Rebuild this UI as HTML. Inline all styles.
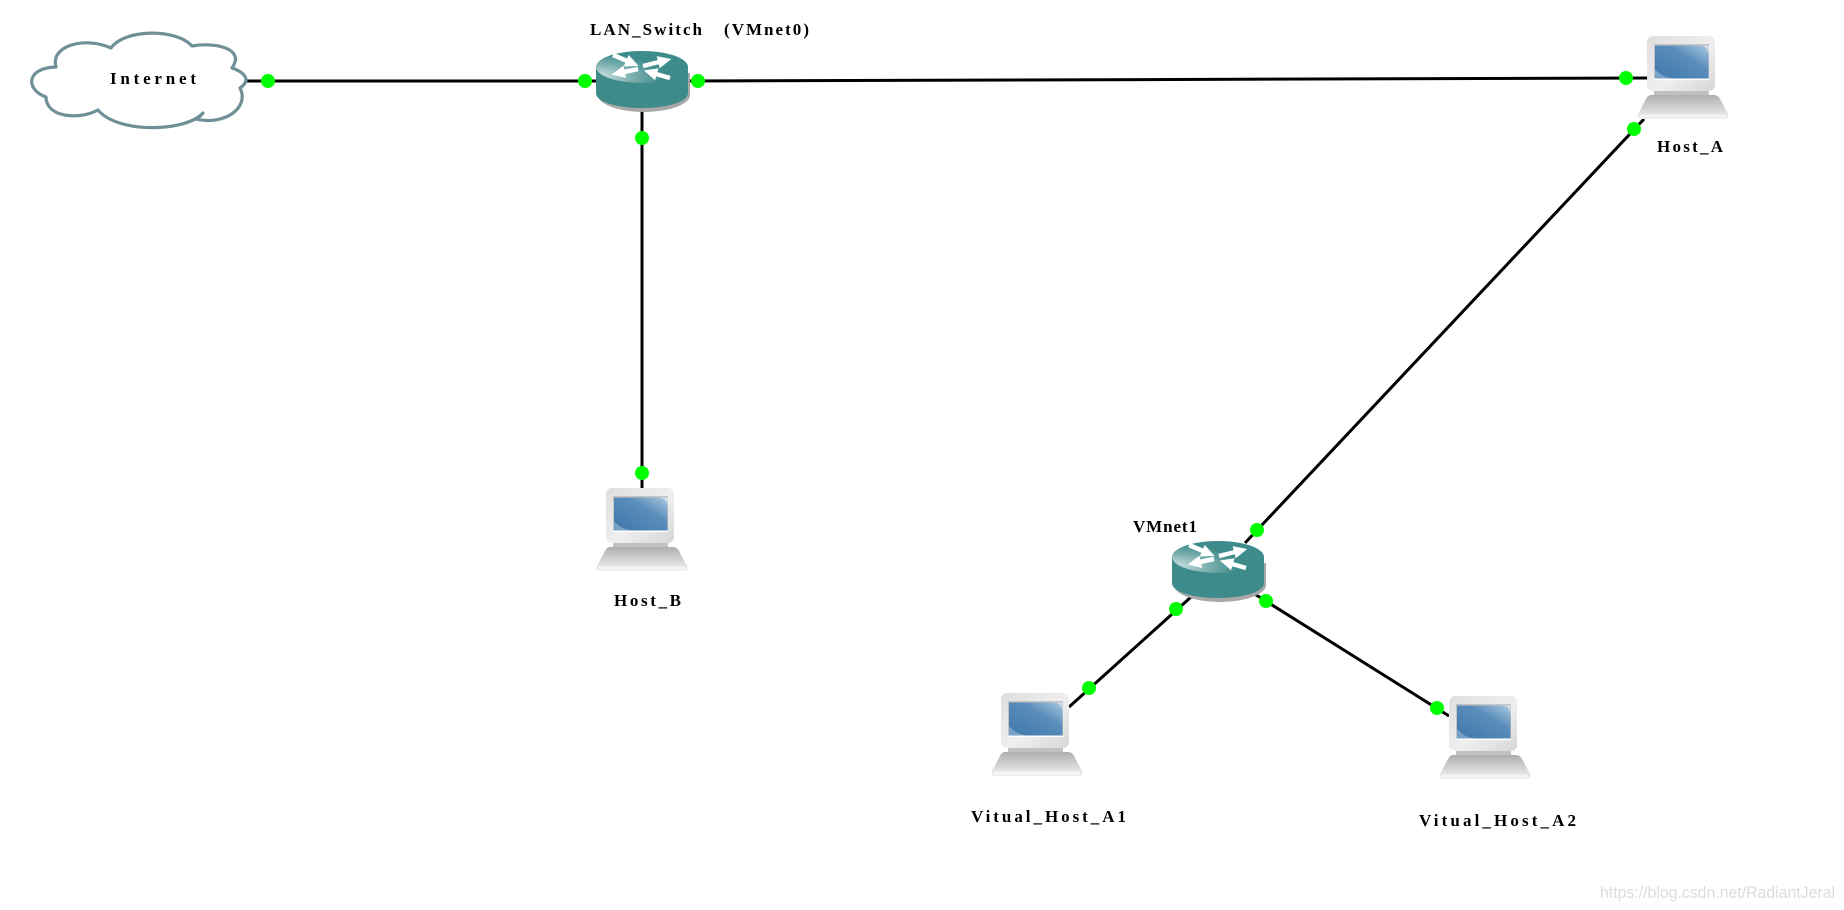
<!DOCTYPE html>
<html>
<head>
<meta charset="utf-8">
<style>
html,body{margin:0;padding:0;background:#fff;}
svg{display:block;}
text{font-family:"Liberation Serif","Noto Serif CJK SC",serif;font-weight:bold;font-size:17px;fill:#000;}
</style>
</head>
<body>
<svg width="1844" height="910" viewBox="0 0 1844 910" xmlns="http://www.w3.org/2000/svg">
<defs>
<radialGradient id="rt" cx="0" cy="0.8" r="0.72">
<stop offset="0" stop-color="#d2e5e5"/><stop offset="0.5" stop-color="#84b4b4"/><stop offset="1" stop-color="#3e8b8b"/>
</radialGradient>
<linearGradient id="mon" x1="0" y1="0" x2="1" y2="1">
<stop offset="0" stop-color="#dedede"/><stop offset="0.55" stop-color="#efefef"/><stop offset="1" stop-color="#d6d6d6"/>
</linearGradient>
<linearGradient id="scr" x1="0" y1="1" x2="1" y2="0">
<stop offset="0" stop-color="#3f78ac"/><stop offset="0.62" stop-color="#5a8dba"/><stop offset="1" stop-color="#aac8e0"/>
</linearGradient>
<linearGradient id="base" x1="0" y1="0" x2="0" y2="1">
<stop offset="0" stop-color="#aeaeae"/><stop offset="0.7" stop-color="#dedede"/><stop offset="1" stop-color="#f0f0f0"/>
</linearGradient>
<marker id="ah" markerWidth="3" markerHeight="2.8" refX="0.2" refY="1.4" orient="auto" markerUnits="strokeWidth">
<path d="M0 0 L3 1.4 L0 2.8 Z" fill="#fff"/>
</marker>
<symbol id="router" width="97" height="66" viewBox="0 0 97 66" overflow="visible">
<path d="M2 22 V44 C2 54 25 61 48 61 C71 61 94 54 94 44 V22 Z" fill="#a8a8a8"/>
<path d="M0 16 V42 C0 51 21 57 46 57 C71 57 92 51 92 42 V16 Z" fill="#3e8b8b"/>
<ellipse cx="46" cy="16" rx="46" ry="16" fill="url(#rt)"/>
<g stroke="#fff" stroke-width="4.500" fill="none" marker-end="url(#ah)">
<line x1="17" y1="4" x2="31" y2="10"/>
<line x1="47" y1="15" x2="63" y2="11"/>
<line x1="42" y1="18" x2="28" y2="21"/>
<line x1="74" y1="27" x2="60" y2="23"/>
</g>
</symbol>
<symbol id="host" width="92" height="84" viewBox="0 0 92 84" overflow="visible">
<rect x="17" y="53" width="55" height="8" fill="#c0c0c0"/>
<path d="M14 59 H77 Q81 59 83 63 L91 78 Q93 83 88 83 H4 Q-1 83 1 78 L9 63 Q11 59 14 59 Z" fill="url(#base)"/>
<path d="M4 80 H88" stroke="#f4f4f4" stroke-width="3" stroke-linecap="round"/>
<rect x="10" y="0" width="68" height="55" rx="6" fill="url(#mon)"/>
<rect x="17" y="8" width="55" height="36" fill="#fff"/>
<rect x="17" y="8" width="55" height="34.500" fill="#c4c4c4"/>
<rect x="18" y="9.500" width="53.500" height="33" fill="url(#scr)"/>
<path d="M19 34 Q25 41 36 42.500 H18 V34 Z" fill="#8fb4d2" opacity="0.7"/>
<path d="M62 9.500 Q71.500 9.500 71.500 20 V9.500 Z" fill="#d5dee6"/>
</symbol>
</defs>

<g stroke="#000" stroke-width="3" fill="none">
<line x1="247" y1="81" x2="596" y2="81"/>
<line x1="688" y1="81" x2="1648" y2="78"/>
<line x1="642" y1="105" x2="642" y2="488"/>
<line x1="1644" y1="119" x2="1245" y2="543"/>
<line x1="1069" y1="707" x2="1191" y2="597"/>
<line x1="1253" y1="593" x2="1449" y2="716"/>
</g>

<path d="M111 48 C124 29 176 28 192 46 C214 42 246 48 232 68 C244 72 252 80 240 88 C250 108 224 126 195 119 C198 118 201 116 203 113 C186 132 118 134 98 110 C80 120 46 118 46 97 C26 90 25 68 56 67 C50 46 84 36 111 48 Z" fill="#fff" stroke="#6f9097" stroke-width="3.200" stroke-linejoin="round"/>

<use href="#router" x="596" y="51"/>
<use href="#router" x="1172" y="541"/>
<use href="#host" x="596" y="488"/>
<use href="#host" x="1637" y="36"/>
<use href="#host" x="991" y="693"/>
<use href="#host" x="1439" y="696"/>

<g fill="#00ff00">
<circle cx="268" cy="81" r="7"/>
<circle cx="585" cy="81" r="7"/>
<circle cx="698" cy="81" r="7"/>
<circle cx="642" cy="138" r="7"/>
<circle cx="642" cy="473" r="7"/>
<circle cx="1626" cy="78" r="7"/>
<circle cx="1634" cy="129" r="7"/>
<circle cx="1257" cy="530" r="7"/>
<circle cx="1266" cy="601" r="7"/>
<circle cx="1176" cy="609" r="7"/>
<circle cx="1089" cy="688" r="7"/>
<circle cx="1437" cy="708" r="7"/>
</g>

<text x="110" y="84" textLength="86" lengthAdjust="spacing">Internet</text>
<text x="590" y="35" textLength="112" lengthAdjust="spacing">LAN_Switch</text>
<text x="724" y="35" textLength="85" lengthAdjust="spacing">(VMnet0)</text>
<text x="614" y="606" textLength="67" lengthAdjust="spacing">Host_B</text>
<text x="1657" y="152" textLength="66" lengthAdjust="spacing">Host_A</text>
<text x="1133" y="532" textLength="64" lengthAdjust="spacing">VMnet1</text>
<text x="971" y="822" textLength="155" lengthAdjust="spacing">Vitual_Host_A1</text>
<text x="1419" y="826" textLength="157" lengthAdjust="spacing">Vitual_Host_A2</text>
<text x="1600" y="898" textLength="235" lengthAdjust="spacingAndGlyphs" style="font-family:'Liberation Sans',sans-serif;font-weight:normal;font-size:17px;fill:#dcdcdc;">https://blog.csdn.net/RadiantJeral</text>
</svg>
</body>
</html>
